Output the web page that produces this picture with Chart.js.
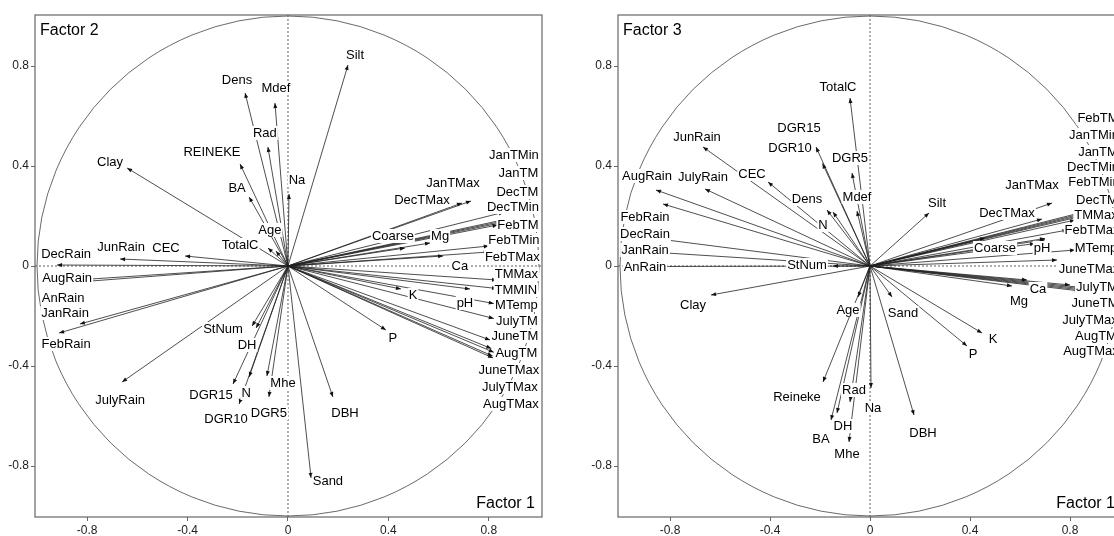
<!DOCTYPE html>
<html>
<head>
<meta charset="utf-8">
<script src="https://cdn.jsdelivr.net/npm/chart.js@4/dist/chart.umd.min.js"></script>
<style>
html, body { margin: 0; padding: 0; background: #fff; overflow: hidden; width: 1114px; height: 536px; }
#left { position: absolute; left: 0; top: 0; }
#right { position: absolute; left: 580px; top: 0; }
</style>
</head>
<body>
<canvas id="left" width="560" height="536"></canvas>
<canvas id="right" width="560" height="536"></canvas>
<script>
// ---- Factor 1 vs Factor 2 ----
var f2Names = ['Dens','Mdef','Rad','REINEKE','BA','Na','Clay','Age','TotalC','CEC',
  'JunRain','DecRain','AugRain','AnRain','JanRain','FebRain','JulyRain','StNum','DH','DGR15',
  'N','DGR10','Mhe','DGR5','Sand','DBH','P','K','pH','Silt',
  'JanTMax','DecTMax','Coarse','Mg','Ca',
  'JanTMin','JanTM','DecTM','DecTMin','FebTM','FebTMin','FebTMax','TMMax','TMMIN','MTemp',
  'JulyTM','JuneTM','AugTM','JuneTMax','JulyTMax','AugTMax'];
var f2Fac1 = [-0.171,-0.052,-0.080,-0.191,-0.155,0.004,-0.641,-0.048,-0.080,-0.410,
  -0.669,-0.920,-0.830,-0.850,-0.829,-0.912,-0.661,-0.143,-0.127,-0.219,
  -0.155,-0.195,-0.084,-0.076,0.092,0.179,0.390,0.450,0.725,0.239,
  0.729,0.693,0.466,0.566,0.618,
  0.860,0.860,0.860,0.860,0.835,0.800,0.800,0.833,0.833,0.820,
  0.820,0.805,0.817,0.810,0.820,0.815];
var f2Fac2 = [0.692,0.652,0.476,0.408,0.276,0.288,0.392,0.060,0.072,0.040,
  0.028,0.004,-0.055,-0.065,-0.232,-0.268,-0.464,-0.240,-0.248,-0.472,
  -0.444,-0.552,-0.440,-0.524,-0.848,-0.524,-0.256,-0.092,-0.092,0.804,
  0.260,0.252,0.072,0.092,0.040,
  0.215,0.185,0.180,0.175,0.164,0.080,0.056,-0.056,-0.090,-0.150,
  -0.210,-0.296,-0.368,-0.330,-0.345,-0.360];
var f2LabelX = [-0.203,-0.048,-0.092,-0.303,-0.203,0.036,-0.709,-0.072,-0.191,-0.486,
  -0.665,-0.884,-0.880,-0.896,-0.888,-0.884,-0.669,-0.259,-0.163,-0.307,
  -0.167,-0.247,-0.020,-0.076,0.159,0.227,0.418,0.498,0.705,0.267,
  0.657,0.534,0.418,0.606,0.685,
  0.900,0.918,0.914,0.896,0.916,0.900,0.894,0.910,0.908,0.910,
  0.912,0.904,0.910,0.880,0.884,0.888];
var f2LabelY = [0.744,0.712,0.532,0.456,0.312,0.344,0.416,0.144,0.084,0.072,
  0.076,0.048,-0.048,-0.128,-0.188,-0.312,-0.536,-0.252,-0.316,-0.516,
  -0.508,-0.612,-0.468,-0.588,-0.860,-0.588,-0.288,-0.116,-0.148,0.844,
  0.332,0.264,0.120,0.120,0.000,
  0.444,0.372,0.296,0.236,0.164,0.104,0.036,-0.032,-0.096,-0.156,
  -0.220,-0.280,-0.348,-0.416,-0.484,-0.552];

// ---- Factor 1 vs Factor 3 ----
var f3Names = ['TotalC','DGR15','DGR10','DGR5','Mdef','Dens','N','CEC','JunRain','JulyRain',
  'AugRain','FebRain','DecRain','JanRain','AnRain','StNum','Silt','JanTMax','DecTMax','Coarse',
  'pH','Ca','Mg','Sand','K','P','Na','DBH','Clay','Age',
  'Reineke','Rad','BA','DH','Mhe',
  'FebTM','JanTMin','JanTM','DecTMin','FebTMin','DecTM','TMMax','FebTMax','MTemp','JuneTMax',
  'JulyTM','JuneTM','JulyTMax','AugTM','AugTMax'];
var f3Fac1 = [-0.080,-0.190,-0.216,-0.072,-0.052,-0.172,-0.148,-0.408,-0.668,-0.660,
  -0.856,-0.828,-0.860,-0.860,-0.870,-0.148,0.236,0.728,0.688,0.460,
  0.660,0.628,0.568,0.088,0.448,0.388,0.004,0.176,-0.636,-0.048,
  -0.188,-0.080,-0.156,-0.132,-0.084,
  0.850,0.850,0.850,0.700,0.700,0.850,0.820,0.790,0.820,0.748,
  0.800,0.840,0.840,0.840,0.840];
var f3Fac3 = [0.672,0.410,0.476,0.372,0.220,0.224,0.216,0.336,0.476,0.308,
  0.304,0.248,0.110,0.055,-0.002,0.000,0.212,0.252,0.188,0.112,
  0.090,-0.056,-0.080,-0.124,-0.268,-0.320,-0.488,-0.596,-0.116,-0.124,
  -0.464,-0.544,-0.616,-0.588,-0.704,
  0.210,0.205,0.200,0.105,0.110,0.215,0.184,0.144,0.064,0.024,
  -0.076,-0.090,-0.085,-0.095,-0.100];
var f3LabelX = [-0.128,-0.284,-0.320,-0.080,-0.052,-0.252,-0.188,-0.472,-0.692,-0.668,
  -0.892,-0.900,-0.900,-0.900,-0.900,-0.252,0.268,0.648,0.548,0.500,
  0.688,0.672,0.596,0.132,0.492,0.412,0.012,0.212,-0.708,-0.088,
  -0.292,-0.064,-0.196,-0.108,-0.092,
  0.912,0.896,0.912,0.892,0.896,0.908,0.904,0.888,0.904,0.876,
  0.908,0.900,0.880,0.904,0.884];
var f3LabelY = [0.716,0.552,0.472,0.432,0.276,0.268,0.164,0.368,0.516,0.356,
  0.360,0.196,0.128,0.064,-0.004,0.004,0.252,0.324,0.212,0.072,
  0.072,-0.092,-0.140,-0.188,-0.292,-0.352,-0.568,-0.668,-0.156,-0.176,
  -0.524,-0.496,-0.692,-0.640,-0.752,
  0.592,0.524,0.456,0.396,0.336,0.264,0.204,0.144,0.072,-0.012,
  -0.084,-0.148,-0.216,-0.280,-0.340];

var tickValues = [-0.8, -0.4, 0, 0.4, 0.8];

var biplotPlugin = {
  id: 'biplot',
  beforeDatasetsDraw: function(chart) {
    var ctx = chart.ctx, a = chart.chartArea;
    var sx = chart.scales.x, sy = chart.scales.y;
    var x0 = sx.getPixelForValue(0), y0 = sy.getPixelForValue(0);
    ctx.save();
    ctx.strokeStyle = '#333';
    ctx.lineWidth = 0.8;
    ctx.setLineDash([2, 2]);
    ctx.beginPath();
    ctx.moveTo(x0, a.top); ctx.lineTo(x0, a.bottom);
    ctx.moveTo(a.left, y0); ctx.lineTo(a.right, y0);
    ctx.stroke();
    ctx.setLineDash([]);
    // unit circle
    ctx.strokeStyle = '#444';
    ctx.beginPath();
    ctx.ellipse(x0, y0, sx.getPixelForValue(1) - x0, y0 - sy.getPixelForValue(1), 0, 0, 2 * Math.PI);
    ctx.stroke();
    ctx.restore();
  },
  afterDatasetsDraw: function(chart, args, opts) {
    var ctx = chart.ctx, a = chart.chartArea;
    var sx = chart.scales.x, sy = chart.scales.y;
    var x0 = sx.getPixelForValue(0), y0 = sy.getPixelForValue(0);
    ctx.save();
    ctx.beginPath();
    ctx.rect(a.left, a.top, a.width, a.height);
    ctx.clip();
    // arrow heads
    ctx.fillStyle = '#111';
    for (var i = 0; i < opts.xs.length; i++) {
      var px = sx.getPixelForValue(opts.xs[i]), py = sy.getPixelForValue(opts.ys[i]);
      var ang = Math.atan2(py - y0, px - x0);
      ctx.beginPath();
      ctx.moveTo(px, py);
      ctx.lineTo(px - 5 * Math.cos(ang) + 2 * Math.sin(ang), py - 5 * Math.sin(ang) - 2 * Math.cos(ang));
      ctx.lineTo(px - 5 * Math.cos(ang) - 2 * Math.sin(ang), py - 5 * Math.sin(ang) + 2 * Math.cos(ang));
      ctx.closePath();
      ctx.fill();
    }
    // labels on white boxes
    ctx.font = '13px "Liberation Sans", Arial, sans-serif';
    ctx.textAlign = 'center';
    ctx.textBaseline = 'middle';
    for (var j = 0; j < opts.names.length; j++) {
      var lx = sx.getPixelForValue(opts.lxs[j]), ly = sy.getPixelForValue(opts.lys[j]);
      var w = ctx.measureText(opts.names[j]).width;
      ctx.fillStyle = '#fff';
      ctx.fillRect(lx - w / 2 - 1, ly - 7, w + 2, 14);
      ctx.fillStyle = '#000';
      ctx.fillText(opts.names[j], lx, ly + 0.5);
    }
    // factor titles
    ctx.font = '16px "Liberation Sans", Arial, sans-serif';
    ctx.textAlign = 'left';
    ctx.fillText(opts.titleTop, a.left + 5, a.top + 16);
    ctx.textAlign = 'right';
    ctx.fillText(opts.titleBottom, a.right - 7, a.bottom - 13);
    ctx.restore();
    // frame
    ctx.save();
    ctx.strokeStyle = '#666';
    ctx.lineWidth = 1.2;
    ctx.strokeRect(a.left, a.top, a.width, a.height);
    ctx.restore();
  }
};

function makeBiplot(canvasID, names, xs, ys, lxs, lys, xMin, xMax, axisWidth, titleTop) {
  var datasets = [];
  for (let i = 0; i < names.length; i++) {
    datasets.push({
      label: names[i],
      data: [{x: 0, y: 0}, {x: xs[i], y: ys[i]}],
      showLine: true,
      borderColor: '#222',
      borderWidth: 0.8,
      pointRadius: 0
    });
  }
  var tickFont = { family: '"Liberation Sans", Arial, sans-serif', size: 12 };
  var fmt = function(v) { return v === 0 ? '0' : v.toFixed(1); };
  return new Chart(document.getElementById(canvasID), {
    type: 'scatter',
    data: { datasets: datasets },
    plugins: [biplotPlugin],
    options: {
      responsive: false,
      animation: false,
      layout: { padding: { top: 15, right: 18, left: 0, bottom: 0 } },
      plugins: {
        legend: { display: false },
        tooltip: { enabled: false },
        biplot: { names: names, xs: xs, ys: ys, lxs: lxs, lys: lys, titleTop: titleTop, titleBottom: 'Factor 1' }
      },
      scales: {
        x: {
          type: 'linear', min: xMin, max: xMax,
          afterBuildTicks: function(s) { s.ticks = tickValues.map(function(v) { return {value: v}; }); },
          afterFit: function(s) { s.height = 19; },
          grid: { drawOnChartArea: false, drawTicks: true, tickLength: 4, color: '#666' },
          border: { display: false },
          ticks: { callback: fmt, font: tickFont, color: '#222', padding: 2, maxRotation: 0 }
        },
        y: {
          type: 'linear', min: -1.004, max: 1.004,
          afterBuildTicks: function(s) { s.ticks = tickValues.map(function(v) { return {value: v}; }); },
          afterFit: function(s) { s.width = axisWidth; },
          grid: { drawOnChartArea: false, drawTicks: true, tickLength: 4, color: '#666' },
          border: { display: false },
          ticks: { callback: fmt, font: tickFont, color: '#222', padding: 2 }
        }
      }
    }
  });
}

makeBiplot('left', f2Names, f2Fac1, f2Fac2, f2LabelX, f2LabelY, -1.008, 1.012, 35, 'Factor 2');
makeBiplot('right', f3Names, f3Fac1, f3Fac3, f3LabelX, f3LabelY, -1.008, 1.008, 38, 'Factor 3');
</script>
</body>
</html>
